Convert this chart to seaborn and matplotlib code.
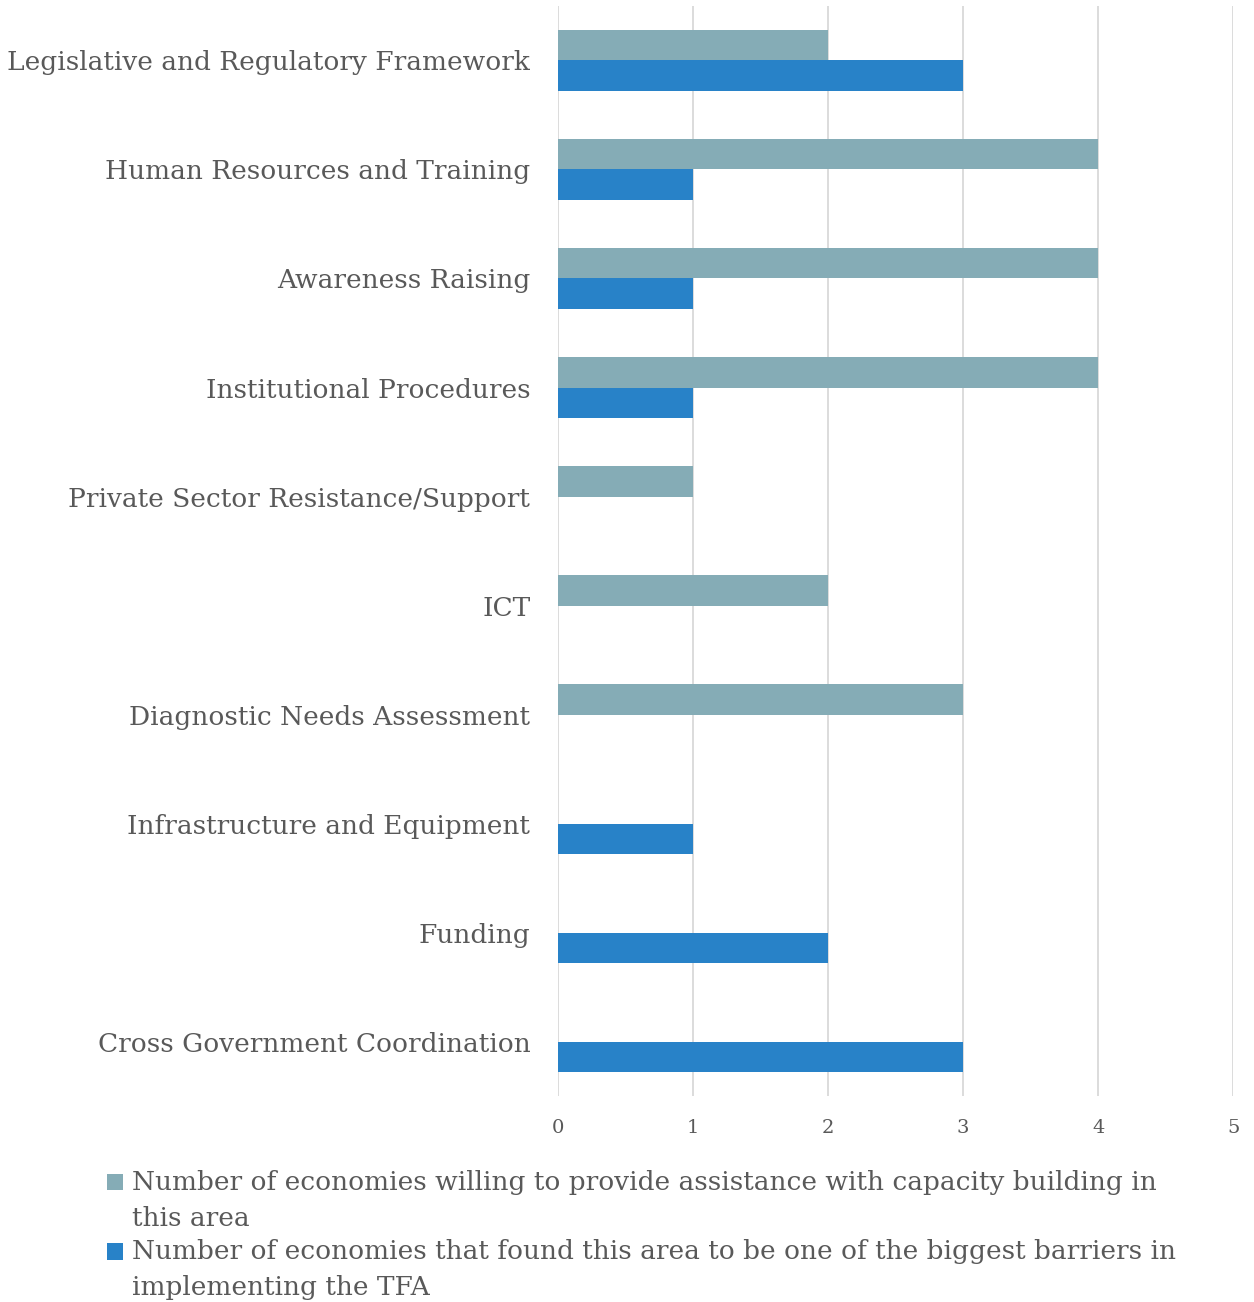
import matplotlib
matplotlib.use("Agg")
import matplotlib.pyplot as plt
from matplotlib.patches import Rectangle
from matplotlib.legend_handler import HandlerPatch
import seaborn as sns
import pandas as pd

categories = [
    "Legislative and Regulatory Framework",
    "Human Resources and Training",
    "Awareness Raising",
    "Institutional Procedures",
    "Private Sector Resistance/Support",
    "ICT",
    "Diagnostic Needs Assessment",
    "Infrastructure and Equipment",
    "Funding",
    "Cross Government Coordination",
]
willing_to_assist = [2, 4, 4, 4, 1, 2, 3, 0, 0, 0]
biggest_barrier = [3, 1, 1, 1, 0, 0, 0, 1, 2, 3]

series_names = [
    "Number of economies willing to provide assistance with capacity building in\nthis area",
    "Number of economies that found this area to be one of the biggest barriers in\nimplementing the TFA",
]
series_colors = ["#85ACB6", "#2882C8"]
x_ticks = [0, 1, 2, 3, 4, 5]

df = pd.DataFrame({
    "category": categories * 2,
    "value": willing_to_assist + biggest_barrier,
    "series": [series_names[0]] * len(categories) + [series_names[1]] * len(categories),
})

sns.set_style("white")
plt.rcParams["font.family"] = ["DejaVu Serif"]
text_color = "#595959"
label_size = 19

fig = plt.figure(figsize=(12.54, 13.02), dpi=100)
ax = fig.add_axes([0.445, 0.158, 0.5385, 0.8375])

sns.barplot(
    data=df, y="category", x="value", hue="series", order=categories,
    hue_order=series_names, palette=series_colors, orient="h",
    width=0.56, gap=0, saturation=1, linewidth=0, ax=ax, legend=True,
)

ax.set_xlim(0, 5)
ax.set_xticks(x_ticks)
ax.set_xticklabels([str(t) for t in x_ticks], fontsize=14, color=text_color)
ax.tick_params(axis="x", length=0, pad=16)
ax.tick_params(axis="y", length=0, pad=20, labelsize=label_size, labelcolor=text_color)
ax.set_xlabel("")
ax.set_ylabel("")
ax.grid(axis="x", color="#D9D9D9", linewidth=1.3)
ax.set_axisbelow(True)
for s in ax.spines.values():
    s.set_visible(False)


def top_aligned_square(legend, orig_handle, xdescent, ydescent, width, height, fontsize):
    # keep the colour key beside the first line of a two-line label
    shift = fontsize * 0.72
    return Rectangle((-xdescent, -ydescent + shift), width, height)


handles, labels = ax.get_legend_handles_labels()
ax.get_legend().remove()
leg = fig.legend(
    handles, labels, loc="upper left", bbox_to_anchor=(0.0853, 0.1015),
    frameon=False, fontsize=label_size, labelcolor=text_color,
    handlelength=0.6, handleheight=0.6, handletextpad=0.35,
    labelspacing=0.32, borderpad=0, borderaxespad=0,
    handler_map={Rectangle: HandlerPatch(patch_func=top_aligned_square)},
)
for t in leg.get_texts():
    t.set_linespacing(1.55)

fig.savefig("out.png", dpi=100)
